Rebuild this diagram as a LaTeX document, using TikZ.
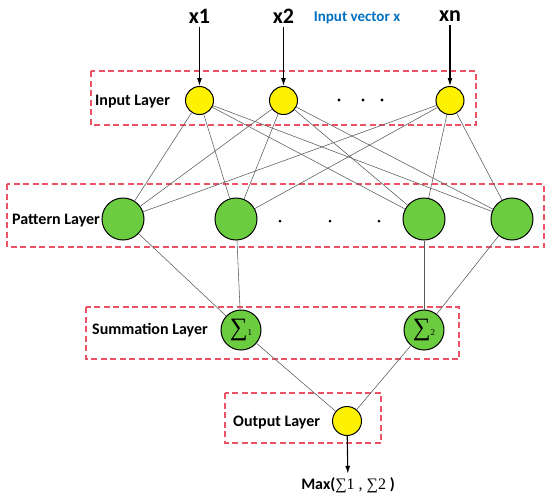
\documentclass[tikz,border=0pt]{standalone}
\usepackage{fontspec}
\setmainfont{Carlito}
\newfontfamily\serifsym{Liberation Serif}
\usetikzlibrary{arrows.meta}
\definecolor{layerred}{RGB}{236,82,102}
\definecolor{nodegreen}{RGB}{108,204,64}
\definecolor{vecblue}{RGB}{0,112,192}
\tikzset{
  layerbox/.style={draw=layerred, dash pattern=on 6pt off 3.5pt, line width=1.2pt},
  inunit/.style={circle, draw, line width=1pt, fill=yellow, minimum size=28pt, inner sep=0pt},
  patunit/.style={circle, draw, line width=1pt, fill=nodegreen, minimum size=42pt, inner sep=0pt},
  sumunit/.style={patunit, minimum size=40pt},
  link/.style={draw=black!65, line width=0.55pt},
  feed/.style={-{Latex[length=8pt,width=5pt]}, line width=1.1pt},
  layername/.style={font=\fontsize{16}{16}\selectfont\bfseries, anchor=west, inner sep=0pt}
}
\begin{document}
\begin{tikzpicture}[x=1pt, y=-1pt]
  \useasboundingbox (0,0) rectangle (550,499);

  % input layer
  \draw[layerbox] (91,71) rectangle (476,125);
  \node[layername] (linput) at (95,102) {Input Layer};
  \node[inunit] (in1) at (199.5,100.5) {};
  \node[inunit] (in2) at (283.5,100.5) {};
  \node[inunit] (inn) at (450,100.5) {};
  \foreach \x in {339,363,382}
    \fill (\x,100) circle (1.6);

  \node[font=\fontsize{22}{22}\selectfont\bfseries] (lx1) at (199.5,16) {x1};
  \node[font=\fontsize{22}{22}\selectfont\bfseries] (lx2) at (283.5,16) {x2};
  \node[font=\fontsize{22}{22}\selectfont\bfseries] (lxn) at (450,16) {xn};
  \node[font=\fontsize{15}{15}\selectfont\bfseries, text=vecblue] (lvec) at (357,18) {Input vector x};
  \draw[feed] (lx1) -- (in1);
  \draw[feed] (lx2) -- (in2);
  \draw[feed] (lxn) -- (inn);

  % pattern layer
  \draw[layerbox] (7,184) rectangle (544,247);
  \node[layername] (lpattern) at (12,221) {Pattern Layer};
  \node[patunit] (pat1) at (123,219) {};
  \node[patunit] (pat2) at (236,219) {};
  \node[patunit] (pat3) at (424,219) {};
  \node[patunit] (pat4) at (512,219) {};
  \foreach \x in {280,330,379}
    \fill (\x,221) circle (1.5);

  \foreach \i in {in1,in2,inn}
    \foreach \p in {pat1,pat2,pat3,pat4}
      \draw[link] (\i) -- (\p);

  % summation layer
  \draw[layerbox] (86,307) rectangle (459,359);
  \node[layername] (lsum) at (92,330) {Summation Layer};
  \node[sumunit] (sum1) at (241,330) {\serifsym\fontsize{25}{25}\selectfont ∑{\fontsize{9}{9}\selectfont 1}};
  \node[sumunit] (sum2) at (424,330) {\serifsym\fontsize{25}{25}\selectfont ∑{\fontsize{9}{9}\selectfont 2}};
  \draw[link] (pat1) -- (sum1);
  \draw[link] (pat2) -- (sum1);
  \draw[link] (pat3) -- (sum2);
  \draw[link] (pat4) -- (sum2);

  % output layer
  \draw[layerbox] (225,393) rectangle (381,443);
  \node[layername] (lout) at (233,423) {Output Layer};
  \node[inunit, minimum size=29pt] (out) at (347,421) {};
  \draw[link] (sum1) -- (out);
  \draw[link] (sum2) -- (out);

  \node[font=\fontsize{16}{16}\selectfont] (lmax) at (348,485)
    {\textbf{Max(}{\serifsym ∑1 , ∑2} \textbf{)}};
  \draw[feed] (out) -- (lmax);
\end{tikzpicture}
\end{document}
